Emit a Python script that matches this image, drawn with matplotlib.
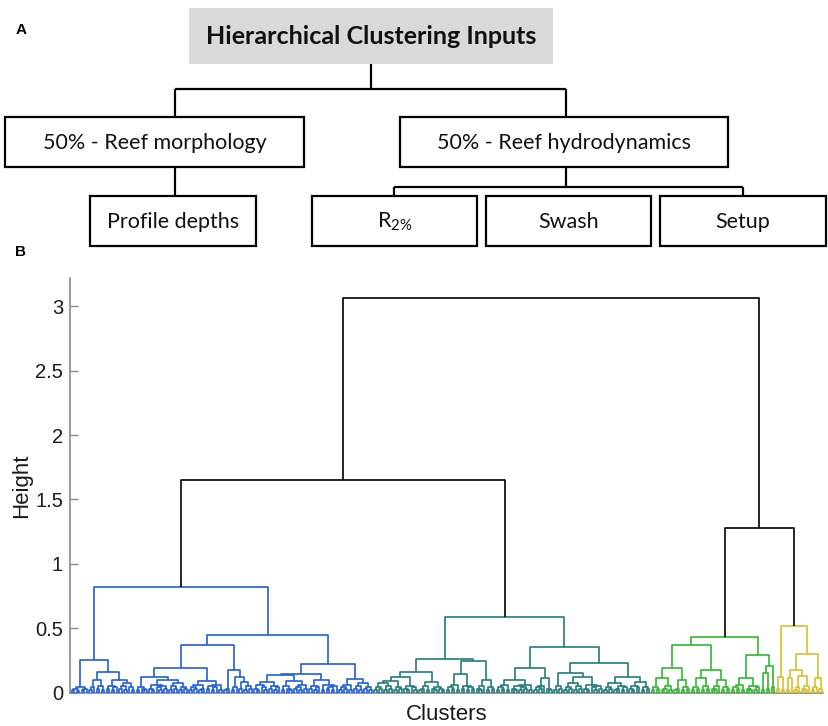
import matplotlib
matplotlib.use('Agg')
import matplotlib.pyplot as plt
from matplotlib.collections import LineCollection
from matplotlib.patches import Rectangle
import numpy as np

plt.rcParams['font.family'] = ['Liberation Sans', 'DejaVu Sans']
plt.rcParams['mathtext.fontset'] = 'custom'
plt.rcParams['mathtext.rm'] = 'Lato'

# ---- panel A: flowchart texts ----
title_text = 'Hierarchical Clustering Inputs'
level1_labels = ['50% - Reef morphology', '50% - Reef hydrodynamics']
level2_labels = ['Profile depths', r'R$_{\mathrm{2\%}}$', 'Swash', 'Setup']

# ---- panel B: dendrogram ----
# merge height between each pair of neighbouring leaves (left to right),
# read off the picture; the tree is rebuilt from these
blue_gaps = [0.02, 0.03, 0.015, 0.04, 0.02, 0.03,
             0.25,
             0.02, 0.04, 0.097, 0.03, 0.05, 0.02,
             0.157,
             0.03, 0.05, 0.02, 0.04,
             0.097,
             0.03, 0.05, 0.02, 0.07, 0.04, 0.02,
             0.818,
             0.02, 0.04, 0.03, 0.02,
             0.123,
             0.03, 0.02, 0.06, 0.04, 0.02, 0.05, 0.03,
             0.10,
             0.02, 0.05, 0.03, 0.07, 0.02, 0.04, 0.03,
             0.188,
             0.02, 0.04, 0.03, 0.06, 0.02, 0.03,
             0.09,
             0.03, 0.05, 0.02, 0.04, 0.06, 0.02,
             0.369,
             0.02, 0.03,
             0.175,
             0.02, 0.04,
             0.12,
             0.03, 0.08, 0.02, 0.05, 0.03,
             0.447,
             0.03, 0.02, 0.06, 0.04, 0.02, 0.08, 0.03, 0.05, 0.02, 0.04,
             0.135,
             0.02, 0.05, 0.03, 0.02, 0.09, 0.03, 0.04, 0.02, 0.06, 0.03,
             0.145,
             0.03, 0.05, 0.02, 0.04, 0.097, 0.02, 0.06, 0.03, 0.04, 0.02, 0.05,
             0.22,
             0.02, 0.04, 0.03, 0.06, 0.02,
             0.105,
             0.03, 0.05, 0.02, 0.07, 0.03, 0.04, 0.02]

teal_gaps = [0.02, 0.04, 0.03, 0.07, 0.02, 0.05, 0.03, 0.09, 0.02, 0.04, 0.03,
             0.12,
             0.03, 0.02, 0.05, 0.04, 0.02,
             0.162,
             0.02, 0.03, 0.05, 0.02, 0.08, 0.03, 0.02, 0.04, 0.03, 0.02,
             0.258,
             0.02, 0.04, 0.03, 0.06, 0.02, 0.14, 0.03, 0.05, 0.02, 0.04, 0.03,
             0.245,
             0.03, 0.02, 0.05, 0.1, 0.02, 0.04, 0.03,
             0.59,
             0.02, 0.04, 0.03, 0.06, 0.02, 0.1, 0.03, 0.02, 0.05, 0.02, 0.04, 0.03, 0.06, 0.02,
             0.188,
             0.02, 0.04, 0.03, 0.05, 0.11, 0.03, 0.02,
             0.35,
             0.02, 0.05, 0.03,
             0.154,
             0.02, 0.04, 0.03, 0.07, 0.02, 0.05, 0.03,
             0.12,
             0.03, 0.02, 0.06, 0.04, 0.02, 0.05, 0.03,
             0.232,
             0.02, 0.04, 0.03, 0.07, 0.02, 0.03, 0.05, 0.02, 0.04,
             0.118,
             0.03, 0.02, 0.05, 0.04, 0.08, 0.02, 0.04, 0.03]

green_gaps = [0.02, 0.04, 0.03, 0.11, 0.02, 0.03, 0.05, 0.02,
              0.188,
              0.02, 0.03, 0.097, 0.02, 0.04, 0.03,
              0.37,
              0.02, 0.04, 0.03, 0.11, 0.02, 0.05, 0.03,
              0.175,
              0.03, 0.02, 0.05, 0.097, 0.02, 0.04, 0.03,
              0.434,
              0.02, 0.04, 0.03, 0.06, 0.02, 0.11, 0.03, 0.02, 0.05, 0.02, 0.04,
              0.29,
              0.02, 0.15, 0.03,
              0.206,
              0.04]

yellow_gaps = [0.03, 0.123, 0.02,
               0.52,
               0.02, 0.11,
               0.175,
               0.02, 0.04, 0.13, 0.03, 0.02, 0.05,
               0.297,
               0.02, 0.04, 0.11, 0.03]

# joins between the four clusters
blue_teal = 1.652
green_yellow = 1.277
top_join = 3.065

cluster_colors = ['#1f5fd8', '#237c7c', '#2fb92f', '#dcbf2e']
y_ticks = [0, 0.5, 1, 1.5, 2, 2.5, 3]
y_ticklabels = ['0', '0.5', '1', '1.5', '2', '2.5', '3']

gaps = (blue_gaps + [blue_teal] + teal_gaps + [top_join]
        + green_gaps + [green_yellow] + yellow_gaps)
sizes = [len(blue_gaps) + 1, len(teal_gaps) + 1,
         len(green_gaps) + 1, len(yellow_gaps) + 1]
leaf_cluster = np.repeat(np.arange(4), sizes)
n_leaves = len(gaps) + 1

segs = []
cols = []


def build(lo, hi):
    # leaves lo..hi; split at the highest neighbour gap
    if lo == hi:
        return float(lo), 0.0
    k = lo + int(np.argmax(gaps[lo:hi]))
    xl, hl = build(lo, k)
    xr, hr = build(k + 1, hi)
    h = gaps[k]
    segs.append([(xl, hl), (xl, h), (xr, h), (xr, hr)])
    if leaf_cluster[lo] == leaf_cluster[hi]:
        cols.append(cluster_colors[leaf_cluster[lo]])
    else:
        cols.append('black')
    return (xl + xr) / 2, h


build(0, n_leaves - 1)

W, H = 829, 726
fig = plt.figure(figsize=(W / 100, H / 100), dpi=100)

# ---- panel A ----
axa = fig.add_axes([0, 0, 1, 1])
axa.set_xlim(0, W)
axa.set_ylim(H, 0)
axa.axis('off')

box_lw = 1.6
cal = ['Lato', 'DejaVu Sans']

axa.add_patch(Rectangle((189, 8), 364, 56, facecolor='#d9d9d9', edgecolor='none'))
axa.text(371, 37, title_text, ha='center', va='center', fontsize=18,
         fontweight='bold', family=cal, color='#111111')

l1_boxes = [(5, 117, 299, 50), (400, 117, 328, 50)]
l2_boxes = [(90, 196, 166, 50), (312, 196, 165, 50), (486, 196, 165, 50), (660, 196, 166, 50)]

for (x, y, w, h), lab in zip(l1_boxes, level1_labels):
    axa.add_patch(Rectangle((x, y), w, h, facecolor='white', edgecolor='black', lw=box_lw))
    axa.text(x + w / 2, y + h / 2 + 1, lab, ha='center', va='center', fontsize=15.5,
             family=cal, color='#111111')
for (x, y, w, h), lab in zip(l2_boxes, level2_labels):
    axa.add_patch(Rectangle((x, y), w, h, facecolor='white', edgecolor='black', lw=box_lw))
    axa.text(x + w / 2, y + h / 2 + 1, lab, ha='center', va='center', fontsize=15.5,
             family=cal, color='#111111')

conn = [[(371, 64), (371, 89)],
        [(175, 89), (566, 89)],
        [(175, 89), (175, 117)],
        [(566, 89), (566, 117)],
        [(175, 167), (175, 196)],
        [(566, 167), (566, 187)],
        [(394, 187), (743, 187)],
        [(394, 187), (394, 196)],
        [(743, 187), (743, 196)]]
axa.add_collection(LineCollection(conn, colors='black', lw=box_lw))

axa.text(21, 30, 'A', ha='center', va='center', fontsize=11, fontweight='bold')
axa.text(21, 252, 'B', ha='center', va='center', fontsize=11, fontweight='bold')

# ---- panel B ----
ax = fig.add_axes([70 / W, 1 - 692.5 / H, (823 - 70) / W, (692.5 - 278) / H])
ax.add_collection(LineCollection(segs, colors=cols, lw=1.2, zorder=3, clip_on=False))
ax.set_xlim(-0.8, n_leaves - 0.6)
ax.set_ylim(0, 3.22)
for s in ['top', 'right']:
    ax.spines[s].set_visible(False)
for s in ['left', 'bottom']:
    ax.spines[s].set_color('#8a8a8a')
    ax.spines[s].set_linewidth(1.2)
ax.set_xticks([])
ax.set_yticks(y_ticks)
ax.set_yticklabels(y_ticklabels)
ax.tick_params(axis='y', direction='in', length=6, width=1, color='#8a8a8a',
               labelsize=14.5, labelcolor='#1a1a1a', pad=5)
ax.set_ylabel('Height', fontsize=16, color='#1a1a1a', labelpad=2)
ax.set_xlabel('Clusters', fontsize=16, color='#1a1a1a', labelpad=8)
ax.patch.set_alpha(0)

fig.savefig('out.png', dpi=100)
